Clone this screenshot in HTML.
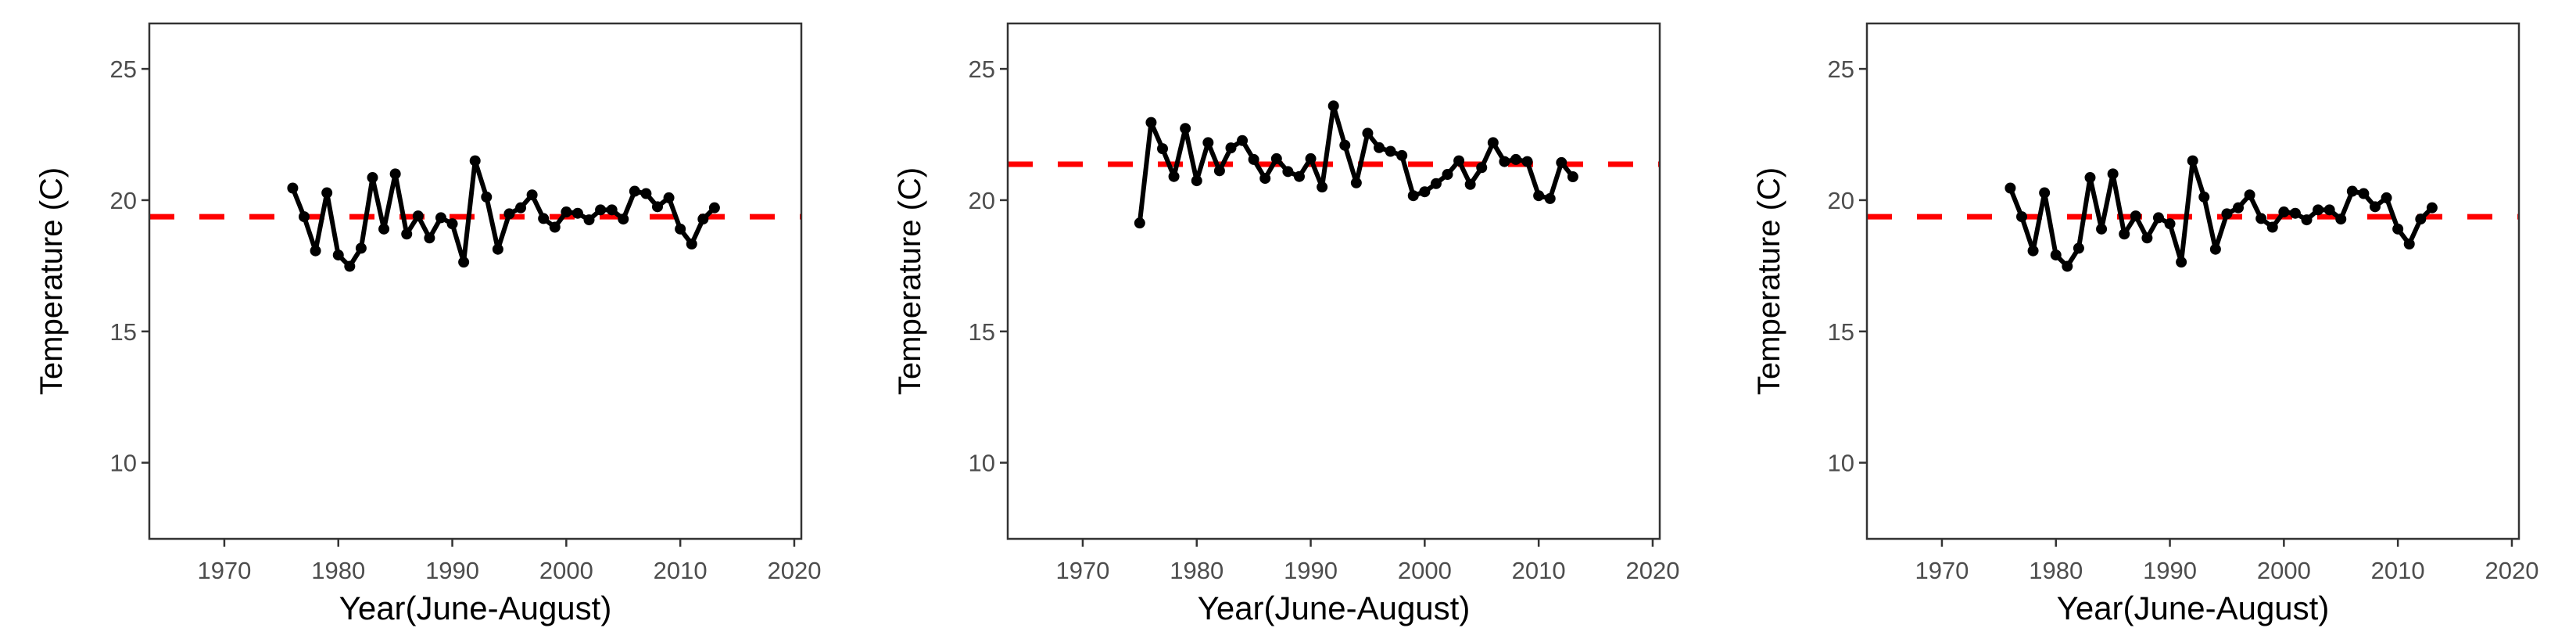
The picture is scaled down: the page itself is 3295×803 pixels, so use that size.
<!DOCTYPE html>
<html><head><meta charset="utf-8"><style>
html,body{margin:0;padding:0;background:#fff;}
svg{display:block;font-family:"Liberation Sans",sans-serif;}
</style></head><body>
<svg id="chart" width="3295" height="803" viewBox="0 0 3295 803"></svg>
<script>
const years1 = [1976,1977,1978,1979,1980,1981,1982,1983,1984,1985,1986,1987,1988,1989,1990,1991,1992,1993,1994,1995,1996,1997,1998,1999,2000,2001,2002,2003,2004,2005,2006,2007,2008,2009,2010,2011,2012,2013];
const temps1 = [20.46,19.37,18.07,20.28,17.91,17.48,18.17,20.86,18.9,21.0,18.71,19.4,18.56,19.33,19.1,17.64,21.5,20.12,18.13,19.48,19.71,20.2,19.3,18.97,19.55,19.5,19.25,19.63,19.63,19.28,20.34,20.25,19.75,20.09,18.9,18.33,19.28,19.71];
const years2 = [1975,1976,1977,1978,1979,1980,1981,1982,1983,1984,1985,1986,1987,1988,1989,1990,1991,1992,1993,1994,1995,1996,1997,1998,1999,2000,2001,2002,2003,2004,2005,2006,2007,2008,2009,2010,2011,2012,2013];
const temps2 = [19.13,22.96,21.96,20.9,22.73,20.74,22.19,21.12,21.99,22.27,21.55,20.83,21.58,21.09,20.9,21.58,20.5,23.59,22.09,20.66,22.55,22.0,21.86,21.7,20.17,20.32,20.63,20.98,21.5,20.6,21.24,22.19,21.47,21.55,21.47,20.17,20.06,21.43,20.89];
const years3 = years1.slice();
const temps3 = temps1.slice();
const means = [19.37, 21.37, 19.37];
const xTicks = [1970,1980,1990,2000,2010,2020];
const yTicks = [10,15,20,25];

const NS = "http://www.w3.org/2000/svg";
const svg = document.getElementById('chart');
function mk(tag, attrs, parent){
  const e = document.createElementNS(NS, tag);
  for (const k in attrs) e.setAttribute(k, attrs[k]);
  (parent||svg).appendChild(e);
  return e;
}
const panels = [[years1,temps1],[years2,temps2],[years3,temps3]];
const lefts = [191, 1289, 2388];
const W = 834, TOP = 30, BOT = 689;
const xMin = 1963.42, xMax = 2020.62, yMin = 7.1, yMax = 26.73;

panels.forEach((p, i) => {
  const L = lefts[i];
  const g = mk('g', {});
  
  
  const xs = v => L + (v - xMin) / (xMax - xMin) * W;
  const ys = v => BOT - (v - yMin) / (yMax - yMin) * (BOT - TOP);

  const ml = mk('line', {x1:L, x2:L+W, y1:ys(means[i]), y2:ys(means[i]), stroke:'#ff0000', 'stroke-width':7, 'stroke-dasharray':'32 32'}, g);
  
  

  const pts = p[0].map((yr, j) => xs(yr).toFixed(1) + ',' + ys(p[1][j]).toFixed(1)).join(' ');
  const pl = mk('polyline', {points:pts, fill:'none', stroke:'#000', 'stroke-width':6, 'stroke-linejoin':'round'}, g);
  
  
  p[0].forEach((yr, j) => {
    const c = mk('circle', {cx:xs(yr), cy:ys(p[1][j]), r:7, fill:'#000'}, g);
    
    
  });

  const fr = mk('rect', {x:L, y:TOP, width:W, height:BOT-TOP, fill:'none', stroke:'#333', 'stroke-width':2.5}, g);
  
  

  yTicks.forEach(t => {
    const y = ys(t);
    mk('line', {x1:L-10, x2:L, y1:y, y2:y, stroke:'#333', 'stroke-width':2.5}, g);
    const tx = mk('text', {x:L-16, y:y+11, 'text-anchor':'end', 'font-size':31, fill:'#4d4d4d'}, g);
    tx.textContent = t;
    
    
  });
  xTicks.forEach(t => {
    const x = xs(t);
    mk('line', {x1:x, x2:x, y1:BOT, y2:BOT+10, stroke:'#333', 'stroke-width':2.5}, g);
    const tx = mk('text', {x:x, y:740, 'text-anchor':'middle', 'font-size':31, fill:'#4d4d4d'}, g);
    tx.textContent = t;
    
    
  });
  const xt = mk('text', {x:L+W/2, y:792, 'text-anchor':'middle', 'font-size':42, fill:'#000'}, g);
  xt.textContent = 'Year(June-August)';
  
  
  const yt = mk('text', {x:0, y:0, 'text-anchor':'middle', 'font-size':40, fill:'#000', transform:'translate(' + (L-112) + ',' + ((TOP+BOT)/2) + ') rotate(-90)'}, g);
  yt.textContent = 'Temperature (C)';
  
  
});
</script>
</body></html>
